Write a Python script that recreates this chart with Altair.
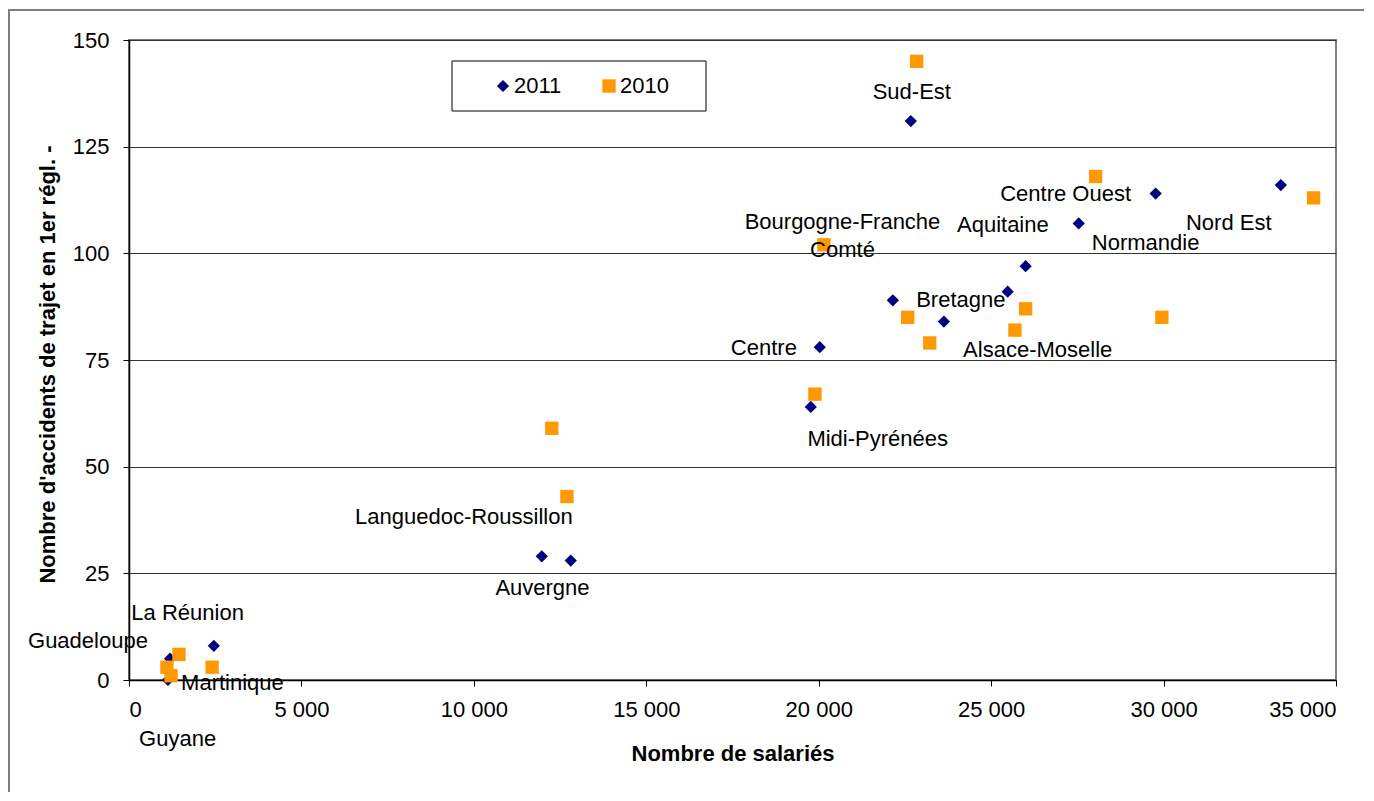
import altair as alt
import pandas as pd

# 2011 series (navy diamonds)
x_2011 = [22670, 33400, 29770, 27540, 26000, 25480, 22150, 23630, 20030, 19770, 11970, 12810, 2460, 1190, 1130]
y_2011 = [131, 116, 114, 107, 97, 91, 89, 84, 78, 64, 29, 28, 8, 5, 0]
# 2010 series (orange squares)
x_2010 = [22840, 28030, 34350, 20150, 26000, 22580, 29950, 25690, 23220, 19890, 12260, 12700, 1450, 1100, 1220, 2410]
y_2010 = [145, 118, 113, 102, 87, 85, 85, 82, 79, 67, 59, 43, 6, 3, 1, 3]

# Region labels and their anchor positions (data units)
label_text = ["Sud-Est", "Centre Ouest", "Nord Est", "Aquitaine", "Normandie",
              "Bourgogne-Franche\nComté", "Bretagne", "Alsace-Moselle", "Centre",
              "Midi-Pyrénées", "Languedoc-Roussillon", "Auvergne", "La Réunion",
              "Guadeloupe", "Martinique", "Guyane"]
label_x = [22700, 27160, 31890, 25340, 29480, 20690, 24120, 26350, 18410,
           21710, 9710, 11990, 1700, -1190, 3000, 1410]
label_y = [137.8, 114.0, 107.1, 106.6, 102.4, 107.4, 89.1, 77.3, 77.8,
           56.5, 38.2, 21.6, 15.7, 9.1, -0.7, -13.8]

x_ticks = [0, 5000, 10000, 15000, 20000, 25000, 30000, 35000]
y_ticks = [0, 25, 50, 75, 100, 125, 150]

pts = pd.DataFrame(
    {"x": x_2011 + x_2010,
     "y": y_2011 + y_2010,
     "serie": ["2011"] * len(x_2011) + ["2010"] * len(x_2010)}
)
labels = pd.DataFrame({"label": label_text, "x": label_x, "y": label_y})

FONT = "Liberation Sans"
W, H = 1207, 640

xscale = alt.Scale(domain=[0, 35000], nice=False, zero=False)
yscale = alt.Scale(domain=[0, 150], nice=False, zero=False)

frame = alt.Chart(alt.Data(values=[{}])).mark_rect(
    fill=None, stroke="#808080", strokeWidth=2
).encode(x=alt.value(-120), x2=alt.value(1300), y=alt.value(-30), y2=alt.value(900))

legend_box = alt.Chart(alt.Data(values=[{}])).mark_rect(
    fill="white", stroke="black", strokeWidth=1
).encode(x=alt.value(323), x2=alt.value(577), y=alt.value(21), y2=alt.value(71))

leg = alt.Legend(title=None, orient="none", legendX=363, legendY=35,
                 direction="horizontal", columnPadding=36,
                 labelFontSize=22, labelFont=FONT, symbolSize=150,
                 symbolStrokeWidth=0, labelOffset=0)

points = alt.Chart(pts).mark_point(filled=True, opacity=1, strokeWidth=0).encode(
    x=alt.X("x:Q", scale=xscale,
            axis=alt.Axis(values=x_ticks, title="Nombre de salariés",
                          labelExpr="replace(format(datum.value, ','), ',', ' ')",
                          grid=False, titleY=73, titleBaseline="middle",
                          labelPadding=13)),
    y=alt.Y("y:Q", scale=yscale,
            axis=alt.Axis(values=y_ticks, title="Nombre d'accidents de trajet en 1er régl. -",
                          grid=True, titleX=-82, titleY=324, titleBaseline="middle",
                          titleAlign="center", labelPadding=14)),
    color=alt.Color("serie:N",
                    scale=alt.Scale(domain=["2011", "2010"], range=["#000080", "#FF9900"]),
                    legend=leg),
    shape=alt.Shape("serie:N",
                    scale=alt.Scale(domain=["2011", "2010"], range=["diamond", "square"]),
                    legend=leg),
    size=alt.Size("serie:N",
                  scale=alt.Scale(domain=["2011", "2010"], range=[150, 178]),
                  legend=None),
    order=alt.Order("ord:Q"),
).transform_calculate(ord="datum.serie == '2011' ? 0 : 1")

texts = alt.Chart(labels).mark_text(
    font=FONT, fontSize=22, color="black", align="center", baseline="middle",
    lineBreak="\n", lineHeight=28
).encode(
    x=alt.X("x:Q", scale=xscale),
    y=alt.Y("y:Q", scale=yscale),
    text="label:N",
)

chart = alt.layer(frame, legend_box, points, texts).properties(
    width=W, height=H,
    autosize=alt.AutoSizeParams(type="none"),
    padding={"left": 121, "top": 32, "right": 28, "bottom": 112},
).configure(font=FONT).configure_view(
    stroke="#808080", strokeWidth=2
).configure_axis(
    domainColor="black", domainWidth=1.5, tickColor="black", tickSize=6,
    labelColor="black", labelFont=FONT, labelFontSize=22,
    titleFont=FONT, titleFontSize=22, titleFontWeight="bold", titleColor="black",
    gridColor="#333333", gridWidth=1,
)

chart.save("out.html", embed_options={"renderer": "svg", "actions": False})
